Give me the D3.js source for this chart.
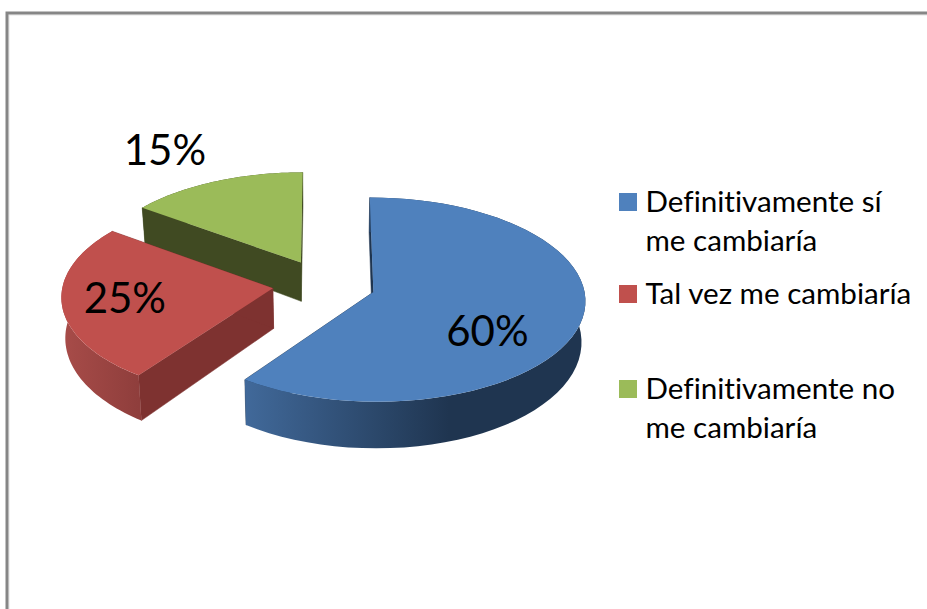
<!DOCTYPE html>
<html>
<head>
<meta charset="utf-8">
<script src="https://cdnjs.cloudflare.com/ajax/libs/d3/7.8.5/d3.min.js"></script>
<style>
  html, body { margin: 0; padding: 0; background: #fff; overflow: hidden; }
  text { font-family: Lato, "Open Sans", sans-serif; fill: #000; font-variant-ligatures: none; }
</style>
</head>
<body>
<div id="wrapper"></div>
<script>
// Values and labels
const categories = ["Definitivamente sí", "Tal vez me cambiaría", "Definitivamente no"];
const legendSecondLines = ["me cambiaría", "", "me cambiaría"];
const values = [60, 25, 15];
const valueLabels = ["60%", "25%", "15%"];

async function drawChart() {

  // 1. Dimensions
  const dimensions = {
    width: 927,
    height: 609,
    centerX: 324,
    centerY: 284.4,
    radiusX: 210,
    radiusY: 101,
    explode: 0.246,   // how far each slice is pulled out, in radii
    perspective: 0.074,
    depth: 40,
    bottomShrink: 0.015,  // bottom face sits further away, so slightly narrower
  };

  const topColors = ["#4f81bd", "#c0504d", "#9bbb59"];
  const cutColors = ["#1f3550", "#7e3230", "#404a22"];
  const wallStops = [
    [["0%", "#41699a"], ["60%", "#1f3550"], ["100%", "#1f3550"]],
    [["0%", "#a84c49"], ["100%", "#8f3e3c"]],
    [["0%", "#404a22"], ["100%", "#404a22"]],
  ];

  // Hand-placed like the data labels in the original, offset from each slice's tip
  const labelOffsets = [[114, 38], [-148, 9], [-136, -114]];
  const legendSwatchX = 619;
  const legendTextX = 645.5;
  const legendRows = [212, 304, 399];
  const legendLineHeight = 38.5;
  const legendFontSize = "29.6px";

  // 2. Canvas
  const wrapper = d3.select("#wrapper")
    .append("svg")
      .attr("width", dimensions.width)
      .attr("height", dimensions.height)
      .style("display", "block");

  wrapper.append("rect")
      .attr("x", 9)
      .attr("y", 15)
      .attr("width", 1000)
      .attr("height", 1000)
      .attr("fill", "none")
      .attr("stroke", "#e4e4e4")
      .attr("stroke-width", 1);
  wrapper.append("rect")
      .attr("x", 7)
      .attr("y", 13)
      .attr("width", 1000)
      .attr("height", 1000)
      .attr("fill", "none")
      .attr("stroke", "#868686")
      .attr("stroke-width", 3);

  // 3. Pie layout and a small perspective projection
  const pie = d3.pie().sort(null).startAngle(0).endAngle(2 * Math.PI);
  const slices = pie(values);

  const scaleAt = y => 1 + dimensions.perspective * y;

  // a = clockwise from 12 o'clock, r = 0..1, h = 0 top face / 1 bottom face
  const project = (slice, a, r, h) => {
    const mid = (slice.startAngle + slice.endAngle) / 2;
    const x = dimensions.explode * Math.sin(mid) + r * Math.sin(a);
    const y = -dimensions.explode * Math.cos(mid) - r * Math.cos(a);
    const s = scaleAt(y);
    return [
      dimensions.centerX + dimensions.radiusX * x * s * (1 - h * dimensions.bottomShrink),
      dimensions.centerY + dimensions.radiusY * y * s + h * dimensions.depth * s * s,
    ];
  };

  const anglesOf = slice => d3.range(0, 61)
    .map(i => slice.startAngle + (slice.endAngle - slice.startAngle) * i / 60);

  const polygon = d3.line().curve(d3.curveLinearClosed);

  // 4. Gradients for the curved outer walls
  const defs = wrapper.append("defs");
  const gradients = defs.selectAll("linearGradient")
    .data(slices)
    .join("linearGradient")
      .attr("id", (_d, i) => `wall-${i}`)
      .attr("gradientUnits", "userSpaceOnUse")
      .attr("x1", d => d3.min(anglesOf(d), a => project(d, a, 1, 0)[0]))
      .attr("x2", d => d3.max(anglesOf(d), a => project(d, a, 1, 0)[0]))
      .attr("y1", 0)
      .attr("y2", 0);
  gradients.selectAll("stop")
    .data((_d, i) => wallStops[i])
    .join("stop")
      .attr("offset", d => d[0])
      .attr("stop-color", d => d[1]);

  // 5. Slices, back to front
  const drawOrder = [2, 1, 0];
  const sliceGroups = wrapper.selectAll(".slice")
    .data(drawOrder.map(i => ({...slices[i], id: i})))
    .join("g")
      .attr("class", "slice");

  const cutWall = (d, a) => [
    project(d, a, 1, 0), project(d, a, 0, 0),
    project(d, a, 0, 1), project(d, a, 1, 1),
  ];

  // Cut walls stroked a little so no light seam shows against the curved wall
  sliceGroups.append("path")
      .attr("d", d => polygon(cutWall(d, d.startAngle)))
      .attr("fill", d => cutColors[d.id])
      .attr("stroke", d => cutColors[d.id])
      .attr("stroke-width", 0.5);
  sliceGroups.append("path")
      .attr("d", d => polygon(cutWall(d, d.endAngle)))
      .attr("fill", d => cutColors[d.id])
      .attr("stroke", d => cutColors[d.id])
      .attr("stroke-width", 0.5);

  sliceGroups.append("path")
      .attr("d", d => {
        const angles = anglesOf(d);
        return polygon([
          ...angles.map(a => project(d, a, 1, 0)),
          ...angles.slice().reverse().map(a => project(d, a, 1, 1)),
        ]);
      })
      .attr("fill", d => `url(#wall-${d.id})`);

  sliceGroups.append("path")
      .attr("d", d => polygon([
        project(d, 0, 0, 0),
        ...anglesOf(d).map(a => project(d, a, 1, 0)),
      ]))
      .attr("fill", d => topColors[d.id]);

  // 6. Data labels
  wrapper.selectAll(".value-label")
    .data(slices)
    .join("text")
      .attr("class", "value-label")
      .attr("x", (d, i) => project(d, 0, 0, 0)[0] + labelOffsets[i][0])
      .attr("y", (d, i) => project(d, 0, 0, 0)[1] + labelOffsets[i][1])
      .attr("text-anchor", "middle")
      .attr("dominant-baseline", "central")
      .style("font-size", "42px")
      .text((_d, i) => valueLabels[i]);

  // 7. Legend
  const legend = wrapper.selectAll(".legend-item")
    .data(categories)
    .join("g")
      .attr("class", "legend-item");

  legend.append("rect")
      .attr("x", legendSwatchX)
      .attr("y", (_d, i) => legendRows[i] - 19)
      .attr("width", 18)
      .attr("height", 18)
      .attr("fill", (_d, i) => topColors[i]);

  legend.append("text")
      .attr("x", legendTextX)
      .attr("y", (_d, i) => legendRows[i])
      .style("font-size", legendFontSize)
      .text(d => d);

  legend.append("text")
      .attr("x", legendTextX)
      .attr("y", (_d, i) => legendRows[i] + legendLineHeight)
      .style("font-size", legendFontSize)
      .text((_d, i) => legendSecondLines[i]);
}
drawChart();
</script>
</body>
</html>
